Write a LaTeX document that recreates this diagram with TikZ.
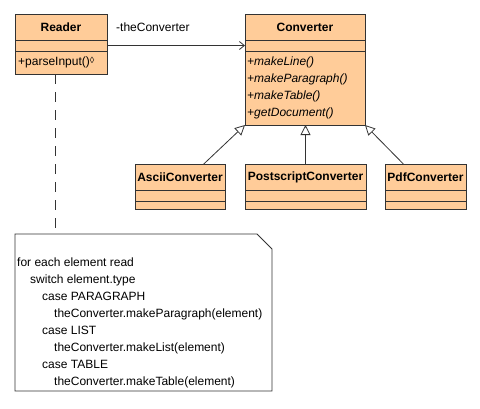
\documentclass[tikz,border=0pt]{standalone}
\usepackage{fontspec}
\setmainfont{Liberation Sans}
\usetikzlibrary{arrows.meta, positioning, fit}

\definecolor{classfill}{RGB}{255,204,153}
\definecolor{classline}{RGB}{51,51,51}
\newcommand{\umlfont}{\fontsize{12}{14.4}\selectfont}

\begin{document}
\begin{tikzpicture}[
    x=1pt, y=-1pt, % one unit is one pixel of the reference, y grows downwards
    font=\umlfont,
    % Class compartments
    compartment/.style={draw=classline, fill=classfill, line width=1pt, inner sep=0pt, outer sep=0pt, minimum width=#1},
    class name/.style={compartment=#1, minimum height=26pt, anchor=north west, font=\umlfont\bfseries},
    class attr/.style={compartment=#1, minimum height=11pt},
    class ops/.style={compartment=#1},
    class box/.style={inner sep=0pt, outer sep=0pt},
    % Text styles
    op text/.style={inner sep=0pt, anchor=west, align=left},
    % Connectors
    assoc/.style={draw=classline, line width=0.8pt, -{Straight Barb[length=5pt, width=8pt]}},
    inherit/.style={draw=classline, line width=0.8pt, -{Triangle[open, length=10pt, width=10pt, fill=white]}},
    note line/.style={draw=classline, line width=0.8pt},
    note link/.style={draw=classline, line width=0.8pt, dash pattern=on 10pt off 8pt}
]
\useasboundingbox[fill=white] (0,0) rectangle (480,408);

% ==========================================
% 1. READER
% ==========================================
\node[class name=92pt] (readername) at (15,14) {Reader};
\node[class attr=92pt, below=0pt of readername] (readerattr) {};
\node[class ops=92pt, minimum height=23pt, below=0pt of readerattr] (readerops) {};
\node[op text, right=3pt of readerops.west] (parse) {+parseInput()\raisebox{2pt}{\fontsize{9}{9}\selectfont\symbol{"25CA}}};
\node[class box, fit=(readername)(readerops)] (reader) {};

% ==========================================
% 2. CONVERTER (abstract)
% ==========================================
\node[class name=120pt] (convname) at (245,14) {Converter};
\node[class attr=120pt, below=0pt of convname] (convattr) {};
\node[class ops=120pt, minimum height=74pt, below=0pt of convattr] (convops) {};
\node[op text, right=2pt of convops.west, font=\fontsize{12}{16.8}\selectfont\itshape] (convmethods) {+makeLine()\\+makeParagraph()\\+makeTable()\\+getDocument()};
\node[class box, fit=(convname)(convops)] (conv) {};

% ==========================================
% 3. CONCRETE CONVERTERS
% ==========================================
% Ascii
\node[class name=90pt] (asciiname) at (135,164) {AsciiConverter};
\node[class attr=90pt, below=0pt of asciiname] (asciiattr) {};
\node[class ops=90pt, minimum height=8pt, below=0pt of asciiattr] (asciiops) {};
\node[class box, fit=(asciiname)(asciiops)] (ascii) {};

% Postscript
\node[class name=121pt] (psname) at (245,164) {PostscriptConverter};
\node[class attr=121pt, below=0pt of psname] (psattr) {};
\node[class ops=121pt, minimum height=8pt, below=0pt of psattr] (psops) {};
\node[class box, fit=(psname)(psops)] (ps) {};

% Pdf
\node[class name=81pt] (pdfname) at (385,164) {PdfConverter};
\node[class attr=81pt, below=0pt of pdfname] (pdfattr) {};
\node[class ops=81pt, minimum height=8pt, below=0pt of pdfattr] (pdfops) {};
\node[class box, fit=(pdfname)(pdfops)] (pdf) {};

% ==========================================
% 4. NOTE
% ==========================================
\node[inner sep=0pt, outer sep=0pt, minimum width=257pt, minimum height=157pt, anchor=north west] (note) at (15,234) {};
\draw[note line, fill=white] (note.north west) -- ([xshift=-15pt]note.north east) -- ([yshift=-15pt]note.north east) -- (note.south east) -- (note.south west) -- cycle;
\node[op text, anchor=north west, font=\fontsize{12}{17}\selectfont] (pseudo) at (17,258) {%
for each element read\\
\hspace*{13pt}switch element.type\\
\hspace*{25pt}case PARAGRAPH\\
\hspace*{37pt}theConverter.makeParagraph(element)\\
\hspace*{25pt}case LIST\\
\hspace*{37pt}theConverter.makeList(element)\\
\hspace*{25pt}case TABLE\\
\hspace*{37pt}theConverter.makeTable(element)};

% ==========================================
% 5. CONNECTORS
% ==========================================
% association with role name
\draw[assoc] (readerattr.east) -- (convattr.west);
\node[anchor=west, inner sep=0pt] (role) at (116,27) {-theConverter};

% generalisations
\draw[inherit] (ascii) -- (conv.south west);
\draw[inherit] (ps.north) -- (ps.north |- conv.south);
\draw[inherit] (pdf) -- (conv.south east);

% note attached to parseInput
\coordinate (memo) at (55,74);
\draw[note link] (memo) -- (memo |- note.north);

\end{tikzpicture}
\end{document}
